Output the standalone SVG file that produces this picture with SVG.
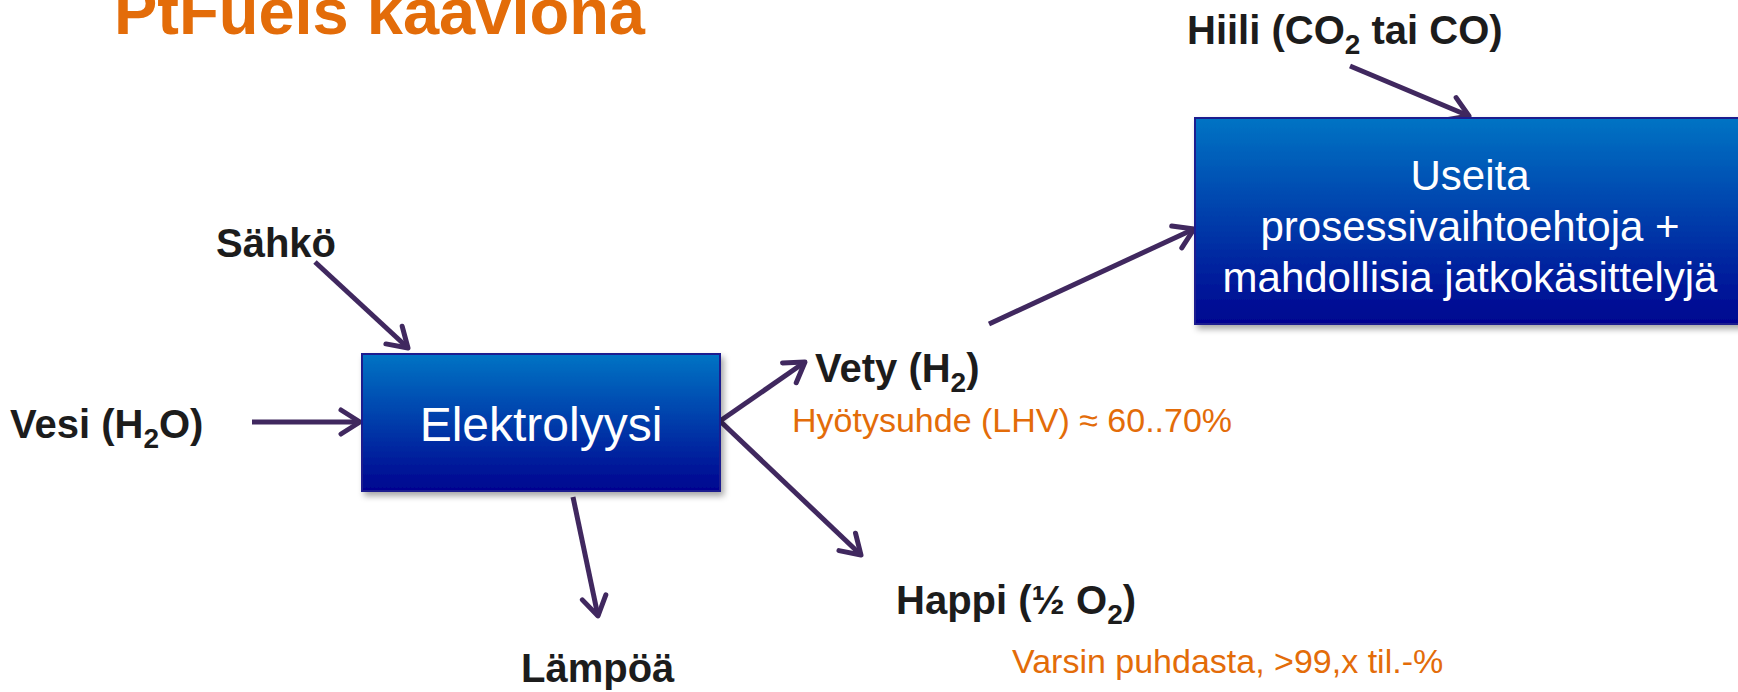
<svg xmlns="http://www.w3.org/2000/svg" width="1738" height="692" viewBox="0 0 1738 692">
<style>
.lbl{font-family:"Liberation Sans",Arial,sans-serif;font-weight:bold;font-size:40px;fill:#1c1c1c}
.sub{font-size:28px}
.note{font-family:"Liberation Sans",Arial,sans-serif;font-size:34px;fill:#e36c09}
.box{fill:url(#g);stroke:#1d1d8f;stroke-width:2;filter:url(#sh)}
.bt{font-family:"Liberation Sans",Arial,sans-serif;fill:#fff;text-anchor:middle}
.c{stroke:#40285f;stroke-width:5;fill:none;marker-end:url(#a)}
</style>
<defs>
<linearGradient id="g" x1="0" y1="0" x2="0" y2="1">
<stop offset="0" stop-color="#0074c4"/>
<stop offset="1" stop-color="#000490"/>
</linearGradient>
<filter id="sh" x="-10%" y="-10%" width="130%" height="130%">
<feDropShadow dx="3" dy="4" stdDeviation="3" flood-color="#000" flood-opacity="0.35"/>
</filter>
<marker id="a" viewBox="-24 -15 28 30" refX="0" refY="0" markerWidth="28" markerHeight="30" markerUnits="userSpaceOnUse" orient="auto">
<path d="M-19,-12 L0,0 L-19,12" fill="none" stroke="#40285f" stroke-width="5" stroke-linecap="round" stroke-linejoin="round"/>
</marker>
</defs>
<rect width="1738" height="692" fill="#fff"/>
<text x="114" y="34" font-family="Liberation Sans,Arial,sans-serif" font-weight="bold" font-size="64" fill="#e36c09" textLength="531" lengthAdjust="spacingAndGlyphs">PtFuels kaaviona</text>
<g id="connectors">
<line class="c" x1="315" y1="262" x2="408" y2="348"/>
<line class="c" x1="252" y1="422" x2="360" y2="422"/>
<line class="c" x1="720" y1="421" x2="805" y2="362"/>
<line class="c" x1="720" y1="421" x2="861" y2="555"/>
<line class="c" x1="573" y1="497" x2="598" y2="616"/>
<line class="c" x1="989" y1="324" x2="1194" y2="229"/>
<line class="c" x1="1350" y1="66" x2="1469" y2="116"/>
</g>
<g id="elektrolyysi">
<rect class="box" x="362" y="354" width="358" height="137"/>
<text class="bt" x="541" y="441" font-size="48">Elektrolyysi</text>
</g>
<g id="prosessi">
<rect class="box" x="1195" y="118" width="560" height="206"/>
<text class="bt" x="1470" y="190" font-size="42">Useita</text>
<text class="bt" x="1470" y="241" font-size="42">prosessivaihtoehtoja +</text>
<text class="bt" x="1470" y="292" font-size="42">mahdollisia jatkokäsittelyjä</text>
</g>
<g id="sahko"><text class="lbl" x="216" y="257">Sähkö</text></g>
<g id="vesi"><text class="lbl" x="10" y="438">Vesi (H<tspan class="sub" dy="10">2</tspan><tspan dy="-10">O)</tspan></text></g>
<g id="vety">
<text class="lbl" x="815" y="382">Vety (H<tspan class="sub" dy="10">2</tspan><tspan dy="-10">)</tspan></text>
<text class="note" x="792" y="432">Hyötysuhde (LHV) ≈ 60..70%</text>
</g>
<g id="happi">
<text class="lbl" x="896" y="614">Happi (½ O<tspan class="sub" dy="10">2</tspan><tspan dy="-10">)</tspan></text>
<text class="note" x="1012" y="673">Varsin puhdasta, &gt;99,x til.-%</text>
</g>
<g id="lampoa"><text class="lbl" x="521" y="682">Lämpöä</text></g>
<g id="hiili"><text class="lbl" x="1187" y="44">Hiili (CO<tspan class="sub" dy="10">2</tspan><tspan dy="-10"> tai CO)</tspan></text></g>
</svg>
